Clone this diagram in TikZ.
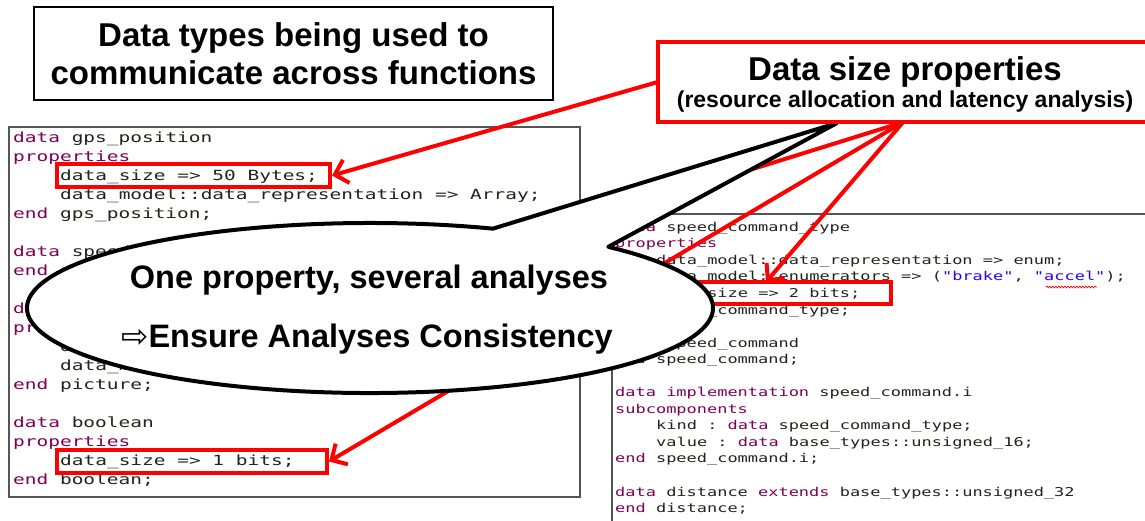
\documentclass[tikz,border=0pt]{standalone}
\usepackage{fontspec}
\setmainfont{Liberation Sans}
\newfontfamily\codefont[FakeStretch=1.39]{DejaVu Sans Mono}
\newfontfamily\arrowfont{DejaVu Sans}
\usetikzlibrary{arrows.meta,decorations.pathmorphing}

\definecolor{kwcol}{RGB}{127,0,85}
\definecolor{idcol}{RGB}{35,35,30}
\definecolor{strcol}{RGB}{42,0,255}
\definecolor{hired}{RGB}{255,0,0}
\definecolor{panelgray}{RGB}{85,85,85}

\newcommand\keyw[1]{\textcolor{kwcol}{#1}}
\newcommand\strlit[1]{\textcolor{strcol}{#1}}

\tikzset{
  x=1pt, y=1pt,
  bigcode/.style={font=\codefont\fontsize{14}{19}\selectfont\frenchspacing, text=idcol, anchor=base west, inner sep=0pt},
  smallcode/.style={font=\codefont\fontsize{12.2}{16.5}\selectfont\frenchspacing, text=idcol, anchor=base west, inner sep=0pt},
  panel/.style={draw=panelgray, line width=1.3pt, fill=white, inner sep=0pt},
  hibox/.style={draw=hired, line width=4pt, inner sep=0pt},
  callarrow/.style={draw=hired, line width=4pt, -{Straight Barb[length=12pt,width=24pt]}},
  titlebox/.style={draw=black, line width=1.3pt, fill=white, align=center, inner sep=0pt,
    font=\bfseries\fontsize{33}{38}\selectfont},
  headline/.style={anchor=base, inner sep=0pt, font=\bfseries\fontsize{33}{38}\selectfont},
  bubbleline/.style={anchor=base, inner sep=0pt, font=\bfseries\fontsize{32.5}{38}\selectfont},
  subline/.style={anchor=base, inner sep=0pt, font=\bfseries\fontsize{23}{27}\selectfont},
  bubble/.style={draw=black, line width=4pt, fill=white, line join=round},
}

\begin{document}
\begin{tikzpicture}
\clip (0,0) rectangle (1145,-520);
\fill[white] (0,0) rectangle (1145,-520);

% headline box, top left
\node[titlebox, minimum width=519pt, minimum height=93pt] (types) at (293.5,-53.5)
  {Data types being used to\\communicate across functions};

% code panels
\node[panel, minimum width=571pt, minimum height=370pt] (leftpanel) at (294.5,-312) {};
\node[panel, minimum width=548pt, minimum height=340pt] (rightpanel) at (886,-384) {};

% left listing
\node[bigcode] (l0)  at (13,-142.5) {\keyw{data} gps\_position};
\node[bigcode] (l1)  at (13,-161.5) {\keyw{properties}};
\node[bigcode] (l2)  at (60,-180.5) {data\_size => 50 Bytes;};
\node[bigcode] (l3)  at (60,-199.5) {data\_model::data\_representation => Array;};
\node[bigcode] (l4)  at (13,-218.5) {\keyw{end} gps\_position;};
\node[bigcode] (l6)  at (13,-256.5) {\keyw{data} speed};
\node[bigcode] (l7)  at (13,-275.5) {\keyw{end} speed};
\node[bigcode] (l9)  at (13,-313.5) {\keyw{data} picture};
\node[bigcode] (l10) at (13,-332.5) {\keyw{properties}};
\node[bigcode] (l11) at (60,-351.5) {data};
\node[bigcode] (l12) at (60,-370.5) {data\_model::data\_representation};
\node[bigcode] (l13) at (13,-389.5) {\keyw{end} picture;};
\node[bigcode] (l15) at (13,-427.5) {\keyw{data} boolean};
\node[bigcode] (l16) at (13,-446.5) {\keyw{properties}};
\node[bigcode] (l17) at (60,-465.5) {data\_size => 1 bits;};
\node[bigcode] (l18) at (13,-484.5) {\keyw{end} boolean;};

% right listing
\node[smallcode] (r0)  at (615,-231.3) {\keyw{data} speed\_command\_type};
\node[smallcode] (r1)  at (615,-247.8) {\keyw{properties}};
\node[smallcode] (r2)  at (656,-264.4) {data\_model::data\_representation => enum;};
\node[smallcode] (r3)  at (656,-280.9) {data\_model::enumerators => (\strlit{"brake"}, \strlit{"accel"});};
\node[smallcode] (r4)  at (656,-297.5) {data\_size => 2 bits;};
\node[smallcode] (r5)  at (615,-314.0) {\keyw{end} speed\_command\_type;};
\node[smallcode] (r7)  at (615,-347.1) {\keyw{data} speed\_command};
\node[smallcode] (r8)  at (615,-363.6) {\keyw{end} speed\_command;};
\node[smallcode] (r10) at (615,-396.7) {\keyw{data} \keyw{implementation} speed\_command.i};
\node[smallcode] (r11) at (615,-413.2) {\keyw{subcomponents}};
\node[smallcode] (r12) at (656,-429.8) {kind : \keyw{data} speed\_command\_type;};
\node[smallcode] (r13) at (656,-446.3) {value : \keyw{data} base\_types::unsigned\_16;};
\node[smallcode] (r14) at (615,-462.9) {\keyw{end} speed\_command.i;};
\node[smallcode] (r16) at (615,-496.0) {\keyw{data} distance \keyw{extends} base\_types::unsigned\_32};
\node[smallcode] (r17) at (615,-512.5) {\keyw{end} distance;};

% spell-check squiggle under "accel"
\coordinate (sq1) at (1046,-287);
\coordinate (sq2) at (1097,-287);
\draw[hired, line width=0.7pt, decorate, decoration={snake, amplitude=0.9pt, segment length=3pt}] (sq1) -- (sq2);

% highlighted properties
\node[hibox, minimum width=273pt, minimum height=23pt] (b50) at (193.5,-175.5) {};
\node[hibox, minimum width=270pt, minimum height=23pt] (b1)  at (192,-461.5) {};
\node[hibox, minimum width=239pt, minimum height=22pt] (b2)  at (771.5,-293) {};

% property box outline position (drawn on top further down)
\node[minimum width=490pt, minimum height=80pt, inner sep=0pt] (size) at (903,-82) {};

% arrows from the property box
\coordinate (t2) at (766,-282);
\coordinate (hid) at (300,-310);
\draw[callarrow] (size.west) -- (b50.east);
\draw[callarrow] (size.south) -- (hid);
\draw[callarrow] (size.south) -- (b1.east);
\draw[callarrow] (size.south) -- (t2);

% speech bubble with its tail
\coordinate (tip) at (837,-123);
\draw[bubble] (370,-308) ++(69:343pt and 85pt)
  arc[start angle=69, end angle=406, x radius=343, y radius=85] -- (tip) -- cycle;
\node[bubbleline] (one) at (369,-288) {One property, several analyses};
\node[bubbleline] (ensure) at (367,-347) {{\arrowfont\mdseries ⇨}Ensure Analyses Consistency};

% property box on top
\node[hibox, fill=white, minimum width=490pt, minimum height=80pt] (sizebox) at (size) {};
\node[headline] (sizetitle) at (905,-80) {Data size properties};
\node[subline] (sizesub) at (905,-107) {(resource allocation and latency analysis)};
\end{tikzpicture}
\end{document}
